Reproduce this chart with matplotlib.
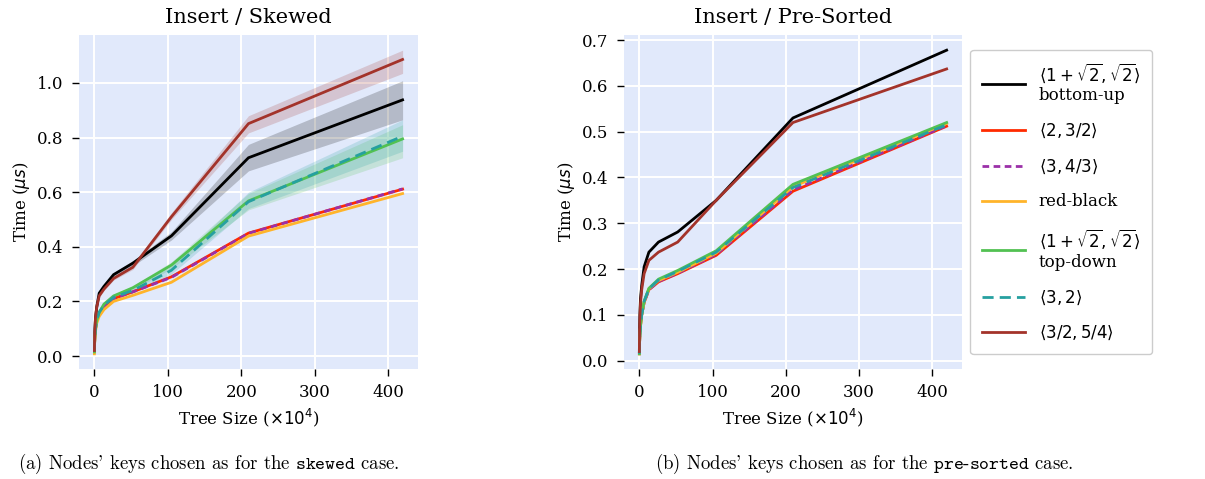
import matplotlib
matplotlib.use("Agg")
import matplotlib.pyplot as plt

# tree sizes (x 10^4)
tree_size = [0.1, 0.2, 0.4, 0.8, 1.6, 3.3, 6.6, 13.1, 26.2, 52.4, 104.9, 209.7, 419.4]

labels = [r"$\langle 1+\sqrt{2},\sqrt{2}\rangle$" + "\nbottom-up",
          r"$\langle 2, 3/2\rangle$",
          r"$\langle 3, 4/3\rangle$",
          "red-black",
          r"$\langle 1+\sqrt{2},\sqrt{2}\rangle$" + "\ntop-down",
          r"$\langle 3, 2\rangle$",
          r"$\langle 3/2, 5/4\rangle$"]

# skewed: mean times (us)
skew_bu = [0.02, 0.04, 0.07, 0.10, 0.14, 0.18, 0.23, 0.255, 0.298, 0.34, 0.44, 0.726, 0.938]
skew_23 = [0.015, 0.03, 0.05, 0.07, 0.10, 0.13, 0.155, 0.18, 0.21, 0.235, 0.29, 0.45, 0.611]
skew_34 = [0.015, 0.03, 0.05, 0.07, 0.10, 0.13, 0.155, 0.18, 0.21, 0.235, 0.288, 0.449, 0.612]
skew_rb = [0.008, 0.025, 0.045, 0.065, 0.09, 0.12, 0.145, 0.17, 0.2, 0.222, 0.27, 0.439, 0.595]
skew_td = [0.015, 0.03, 0.05, 0.07, 0.10, 0.13, 0.16, 0.19, 0.22, 0.25, 0.333, 0.568, 0.795]
skew_32 = [0.015, 0.03, 0.05, 0.07, 0.10, 0.13, 0.16, 0.185, 0.215, 0.24, 0.314, 0.565, 0.805]
skew_54 = [0.02, 0.04, 0.07, 0.10, 0.14, 0.18, 0.22, 0.245, 0.284, 0.325, 0.51, 0.851, 1.086]

# skewed: band bounds
skew_bu_lo = [0.015, 0.035, 0.065, 0.095, 0.135, 0.175, 0.225, 0.25, 0.29, 0.33, 0.425, 0.678, 0.865]
skew_bu_hi = [0.025, 0.045, 0.075, 0.105, 0.145, 0.185, 0.235, 0.26, 0.305, 0.35, 0.455, 0.775, 1.008]
skew_td_lo = [0.013, 0.028, 0.048, 0.068, 0.097, 0.127, 0.157, 0.186, 0.215, 0.243, 0.32, 0.535, 0.726]
skew_td_hi = [0.017, 0.032, 0.052, 0.072, 0.103, 0.133, 0.163, 0.194, 0.225, 0.257, 0.345, 0.595, 0.847]
skew_32_lo = [0.013, 0.028, 0.048, 0.068, 0.097, 0.127, 0.157, 0.181, 0.21, 0.233, 0.30, 0.54, 0.75]
skew_32_hi = [0.017, 0.032, 0.052, 0.072, 0.103, 0.133, 0.163, 0.189, 0.22, 0.247, 0.33, 0.60, 0.865]
skew_54_lo = [0.015, 0.035, 0.065, 0.095, 0.135, 0.175, 0.215, 0.24, 0.278, 0.317, 0.50, 0.817, 1.035]
skew_54_hi = [0.025, 0.045, 0.075, 0.105, 0.145, 0.185, 0.225, 0.25, 0.29, 0.333, 0.525, 0.88, 1.12]

# pre-sorted: mean times (us)
pre_bu = [0.02, 0.04, 0.07, 0.10, 0.135, 0.164, 0.205, 0.237, 0.259, 0.281, 0.35, 0.53, 0.678]
pre_23 = [0.015, 0.025, 0.04, 0.055, 0.075, 0.10, 0.127, 0.155, 0.172, 0.19, 0.23, 0.37, 0.512]
pre_34 = [0.015, 0.025, 0.04, 0.055, 0.075, 0.10, 0.127, 0.155, 0.173, 0.191, 0.232, 0.373, 0.513]
pre_rb = [0.015, 0.025, 0.04, 0.055, 0.075, 0.10, 0.128, 0.157, 0.175, 0.193, 0.235, 0.38, 0.518]
pre_td = [0.015, 0.025, 0.04, 0.055, 0.075, 0.10, 0.13, 0.158, 0.178, 0.197, 0.24, 0.385, 0.52]
pre_32 = [0.015, 0.025, 0.04, 0.055, 0.075, 0.10, 0.129, 0.157, 0.176, 0.195, 0.237, 0.378, 0.515]
pre_54 = [0.02, 0.04, 0.065, 0.095, 0.125, 0.155, 0.19, 0.219, 0.237, 0.259, 0.35, 0.52, 0.637]

colors = ["#000000", "#ff2a00", "#9b30a8", "#ffb42a", "#52c152", "#26a0a0", "#a3332a"]
dashes = [None, None, (2.4, 1.6), None, None, (4, 2.2), None]

plt.rcParams["font.family"] = "DejaVu Serif"
plt.rcParams["mathtext.fontset"] = "dejavusans"
plt.rcParams["font.size"] = 12

fig = plt.figure(figsize=(12.05, 4.79), dpi=100)
ax1 = fig.add_axes([79 / 1205, 110 / 479, 339 / 1205, 334 / 479])
ax2 = fig.add_axes([624 / 1205, 110 / 479, 338 / 1205, 334 / 479])

skew = [skew_bu, skew_23, skew_34, skew_rb, skew_td, skew_32, skew_54]
pre = [pre_bu, pre_23, pre_34, pre_rb, pre_td, pre_32, pre_54]
bands = {0: (skew_bu_lo, skew_bu_hi), 4: (skew_td_lo, skew_td_hi),
         5: (skew_32_lo, skew_32_hi), 6: (skew_54_lo, skew_54_hi)}

for ax in (ax1, ax2):
    ax.set_facecolor("#e1e9fb")
    ax.grid(color="white", linewidth=1.4)
    ax.set_axisbelow(True)
    for s in ax.spines.values():
        s.set_visible(False)
    ax.tick_params(length=5, width=1, pad=6, labelsize=12)
    ax.set_xticks([0, 100, 200, 300, 400])
    ax.set_xlabel(r"Tree Size ($\times 10^4$)", fontsize=12, labelpad=4)
    ax.set_ylabel(r"Time ($\mu s$)", fontsize=12)

# left: skewed
for i, ys in enumerate(skew):
    if i in bands:
        lo, hi = bands[i]
        ax1.fill_between(tree_size, lo, hi, color=colors[i], alpha=0.2, linewidth=0)
    line, = ax1.plot(tree_size, ys, color=colors[i], lw=2)
    if dashes[i]:
        line.set_dashes(dashes[i])
ax1.set_yticks([0.0, 0.2, 0.4, 0.6, 0.8, 1.0])
ax1.set_title("Insert / Skewed", fontsize=15, pad=9)

# right: pre-sorted
for i, ys in enumerate(pre):
    line, = ax2.plot(tree_size, ys, color=colors[i], lw=2, label=labels[i])
    if dashes[i]:
        line.set_dashes(dashes[i])
ax2.set_yticks([0.0, 0.1, 0.2, 0.3, 0.4, 0.5, 0.6, 0.7])
ax2.set_title("Insert / Pre-Sorted", fontsize=15, pad=9)

leg = ax2.legend(loc="center left", bbox_to_anchor=(1.0, 0.5), fontsize=12,
                 handlelength=2.6, labelspacing=1.05, borderpad=0.7, handletextpad=0.8,
                 frameon=True, fancybox=True, edgecolor="#cccccc", framealpha=1)

# captions in Computer Modern, as in the paper
fig.text(18 / 1205, 15 / 479, r"(a) Nodes' keys chosen as for the $\mathtt{skewed}$ case.",
         ha="left", va="center", fontsize=13.5, family="cmr10", math_fontfamily="cm")
fig.text(655 / 1205, 15 / 479, r"(b) Nodes' keys chosen as for the $\mathtt{pre}$-$\mathtt{sorted}$ case.",
         ha="left", va="center", fontsize=13.5, family="cmr10", math_fontfamily="cm")

fig.savefig("out.png", dpi=100)
